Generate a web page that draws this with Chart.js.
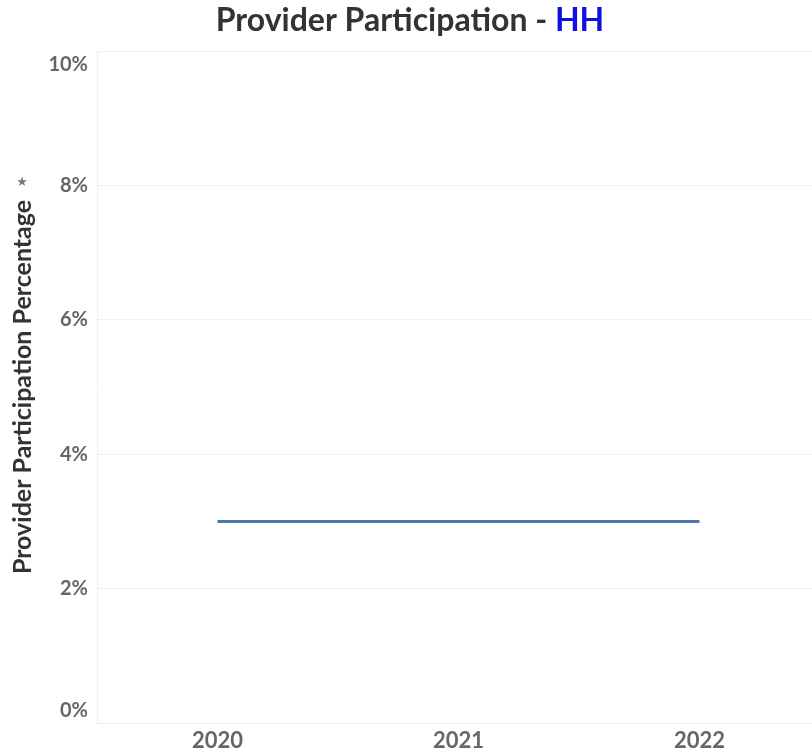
<!DOCTYPE html>
<html>
<head>
<meta charset="utf-8">
<script src="https://cdn.jsdelivr.net/npm/chart.js@4/dist/chart.umd.min.js"></script>
<style>
    html, body { margin: 0; padding: 0; background: #fff; overflow: hidden; }
    #wrap { position: relative; width: 820px; height: 755px; }
</style>
</head>
<body>
<div id="wrap"><canvas id="myChart" width="820" height="755"></canvas></div>
<script>
const years = ['2020', '2021', '2022'];
const participation = [0.03, 0.03, 0.03];
const yTicks = [0, 0.02, 0.04, 0.06, 0.08, 0.10];

const titleParts = [
    { text: 'Provider Participation - ', color: '#333333' },
    { text: 'HH', color: '#1010e0' }
];

const tickFont = 'bold 20px Lato, "Open Sans", sans-serif';
const pct = v => Math.round(v * 100) + '%';

// two-coloured title, centred over the page
const titlePlugin = {
    id: 'twoColorTitle',
    afterDraw(chart) {
        const ctx = chart.ctx;
        ctx.save();
        ctx.font = 'bold 32px Lato, "Open Sans", sans-serif';
        ctx.textBaseline = 'middle';
        ctx.textAlign = 'left';
        const total = titleParts.reduce((w, p) => w + ctx.measureText(p.text).width, 0);
        let x = 410 - total / 2;
        titleParts.forEach(p => {
            ctx.fillStyle = p.color;
            ctx.fillText(p.text, x, 21);
            x += ctx.measureText(p.text).width;
        });
        // little pin icon above the axis title
        ctx.font = '13px "DejaVu Sans", sans-serif';
        ctx.fillStyle = '#777777';
        ctx.textAlign = 'center';
        ctx.fillText('★', 22, 183);
        ctx.restore();
    }
};

// first and last y labels sit inside the plot, like the original
const edgeLabels = {
    id: 'edgeLabels',
    afterDraw(chart) {
        const y = chart.scales.y;
        const ctx = chart.ctx;
        ctx.save();
        ctx.font = tickFont;
        ctx.fillStyle = '#666666';
        ctx.textAlign = 'right';
        ctx.textBaseline = 'middle';
        const lo = yTicks[0], hi = yTicks[yTicks.length - 1];
        ctx.fillText(pct(hi), y.right - 9, y.getPixelForValue(hi) + 14);
        ctx.fillText(pct(lo), y.right - 9, y.getPixelForValue(lo) - 12);
        ctx.restore();
    }
};

const ctx = document.getElementById('myChart').getContext('2d');
const myChart = new Chart(ctx, {
    type: 'line',
    data: {
        labels: years,
        datasets: [{
            label: 'Provider Participation Percentage',
            data: participation,
            borderColor: '#4e79a7',
            borderWidth: 3,
            pointRadius: 0,
            tension: 0,
            fill: false
        }]
    },
    options: {
        responsive: false,
        animation: false,
        layout: { padding: { top: 51, right: 0, left: 0, bottom: 0 } },
        plugins: {
            legend: { display: false },
            tooltip: { enabled: false }
        },
        scales: {
            x: {
                offset: true,
                grid: { display: false, drawTicks: false },
                border: { color: '#eeeeee' },
                ticks: {
                    color: '#666666',
                    font: { family: 'Lato, "Open Sans", sans-serif', size: 22, weight: 'bold' },
                    padding: 5
                },
                afterFit: s => { s.height = 32; }
            },
            y: {
                min: 0,
                max: 0.10,
                afterBuildTicks: s => { s.ticks = yTicks.map(v => ({ value: v })); },
                grid: { color: '#f0f0f0', drawTicks: false },
                border: { color: '#eeeeee' },
                ticks: {
                    color: c => (c.tick && (c.tick.value === yTicks[0] || c.tick.value === yTicks[yTicks.length - 1])) ? 'rgba(0,0,0,0)' : '#666666',
                    font: { family: 'Lato, "Open Sans", sans-serif', size: 20, weight: 'bold' },
                    padding: 9,
                    callback: v => pct(v)
                },
                title: {
                    display: true,
                    text: 'Provider Participation Percentage',
                    color: '#333333',
                    font: { family: 'Lato, "Open Sans", sans-serif', size: 25, weight: 'bold' },
                    padding: { top: 8, bottom: 0 }
                },
                afterFit: s => { s.width = 97; }
            }
        }
    },
    plugins: [titlePlugin, edgeLabels]
});
</script>
</body>
</html>
